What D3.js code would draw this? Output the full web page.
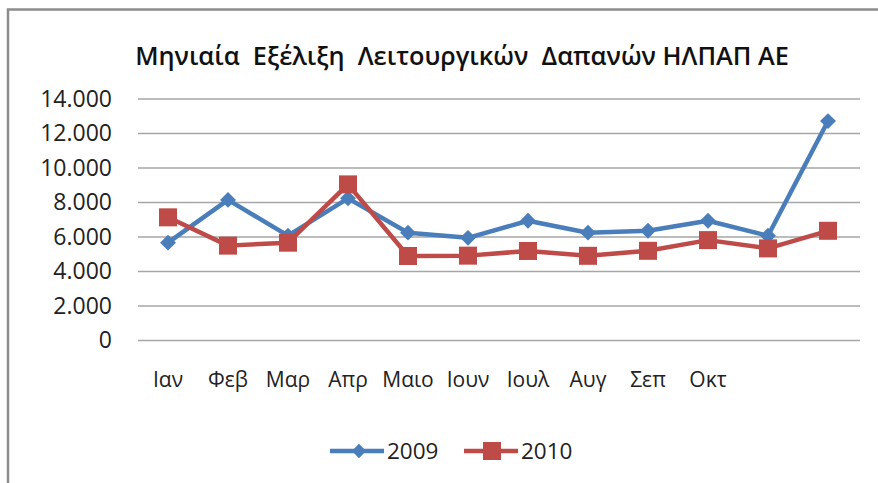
<!DOCTYPE html>
<html><head><meta charset="utf-8">
<script src="https://cdn.jsdelivr.net/npm/d3@7"></script>
<style>
html,body{margin:0;padding:0;background:#fff;}
svg{display:block;font-family:"Open Sans",sans-serif;}
</style></head>
<body><svg id="c" width="878" height="483"></svg>
<script>
const categories = ['Ιαν','Φεβ','Μαρ','Απρ','Μαιο','Ιουν','Ιουλ','Αυγ','Σεπ','Οκτ','Νοε','Δεκ'];
const tickLabels = ['Ιαν','Φεβ','Μαρ','Απρ','Μαιο','Ιουν','Ιουλ','Αυγ','Σεπ','Οκτ','',''];
const values2009 = [5670, 8150, 6080, 8240, 6250, 5950, 6940, 6250, 6360, 6940, 6070, 12720];
const values2010 = [7140, 5500, 5670, 9050, 4900, 4920, 5190, 4910, 5200, 5820, 5340, 6360];
const yTicks = [0, 2000, 4000, 6000, 8000, 10000, 12000, 14000];
const seriesNames = ['2009', '2010'];
const colors = ['#4A7EBB', '#BE4B48'];
const title = 'Μηνιαία  Εξέλιξη  Λειτουργικών  Δαπανών ΗΛΠΑΠ ΑΕ';

const svg = d3.select('#c');
const fmt = v => v === 0 ? '0' : d3.format(',')(v).replace(/,/g, '.');

// frame
svg.append('path').attr('d', 'M8,483 V9.5 H878').attr('fill', 'none')
  .attr('stroke', '#8c8c8c').attr('stroke-width', 2.5);

const x = d3.scaleBand().domain(categories).range([138, 858]);
const y = d3.scaleLinear().domain([0, 14000]).range([340.5, 99]);

// gridlines
svg.append('g').selectAll('line').data(yTicks).join('line')
  .attr('x1', 138).attr('x2', 860)
  .attr('y1', d => y(d)).attr('y2', d => y(d))
  .attr('stroke', '#a6a6a6').attr('stroke-width', 1.6);

// y axis labels
const yAxis = svg.append('g').attr('transform', 'translate(138,0)')
  .call(d3.axisLeft(y).tickValues(yTicks).tickFormat(fmt).tickSize(0).tickPadding(26));
yAxis.select('.domain').remove();
yAxis.selectAll('text').attr('font-family', '"Open Sans",sans-serif').attr('font-size', 23).attr('fill', '#222');

// x axis labels
const xAxis = svg.append('g').attr('transform', 'translate(0,340.5)')
  .call(d3.axisBottom(x).tickFormat((d, i) => tickLabels[i]).tickSize(0).tickPadding(32));
xAxis.select('.domain').remove();
xAxis.selectAll('text').attr('font-family', '"Open Sans",sans-serif').attr('font-size', 21).attr('fill', '#222');

// title
svg.append('text').attr('x', 462).attr('y', 65).attr('text-anchor', 'middle')
  .style('white-space', 'pre').attr('font-size', 25.3).attr('font-weight', 600).attr('fill', '#111')
  .text(title);

const cx = d => x(d) + x.bandwidth() / 2;
const line = d3.line().x((d, i) => cx(categories[i])).y(d => y(d));
const all = [values2009, values2010];

all.forEach((vals, s) => {
  svg.append('path').datum(vals).attr('d', line).attr('fill', 'none')
    .attr('stroke', colors[s]).attr('stroke-width', 4.5).attr('stroke-linejoin', 'round');
});
// markers
svg.append('g').selectAll('path').data(values2009).join('path')
  .attr('transform', (d, i) => `translate(${cx(categories[i])},${y(d)})`)
  .attr('d', d3.symbol(d3.symbolDiamond2, 160)()).attr('fill', colors[0]);
svg.append('g').selectAll('rect').data(values2010).join('rect')
  .attr('x', (d, i) => cx(categories[i]) - 9).attr('y', d => y(d) - 9)
  .attr('width', 18).attr('height', 18).attr('fill', colors[1]);

// legend
const leg = [{x: 330}, {x: 464}];
leg.forEach((l, s) => {
  const g = svg.append('g').attr('transform', `translate(${l.x},451)`);
  g.append('line').attr('x1', 0).attr('x2', 54).attr('stroke', colors[s]).attr('stroke-width', 4.5);
  if (s === 0) g.append('path').attr('transform', 'translate(29,0)').attr('d', d3.symbol(d3.symbolDiamond2, 130)()).attr('fill', colors[0]);
  else g.append('rect').attr('x', 19).attr('y', -9).attr('width', 18).attr('height', 18).attr('fill', colors[1]);
  g.append('text').attr('x', 57).attr('y', 8).attr('font-size', 22.5).attr('fill', '#222').text(seriesNames[s]);
});
</script></body></html>
